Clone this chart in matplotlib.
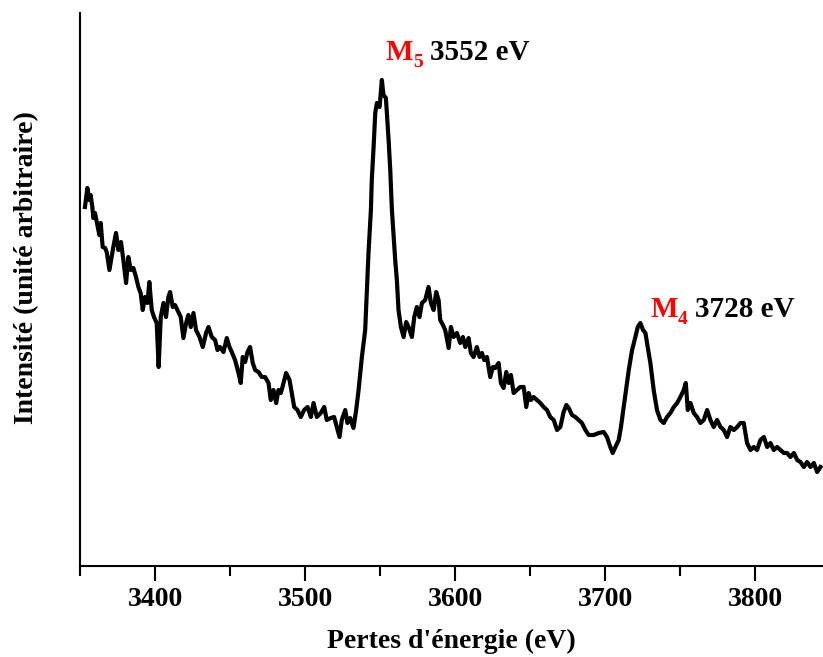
import matplotlib
matplotlib.use("Agg")
import matplotlib.pyplot as plt
from matplotlib.ticker import MultipleLocator

# Spectre EELS, seuils M5 et M4 (unite arbitraire)
energie = [3353.3, 3354.9, 3356.2, 3357.1, 3358.2, 3358.9, 3360, 3361.6, 3362.9, 3363.8,
           3365.1, 3366.7, 3367.8, 3369.6, 3371.1, 3372.2, 3374, 3375.6, 3377.3, 3378.9,
           3380.7, 3382.2, 3383.8, 3385.6, 3387.3, 3388.9, 3390.4, 3391.8, 3393.3, 3394.9,
           3396.2, 3397.8, 3399.3, 3401.1, 3402.4, 3403.8, 3405.6, 3407.3, 3408.9, 3410,
           3411.8, 3413.3, 3414.9, 3417.1, 3418.9, 3420.7, 3422.2, 3423.8, 3425.6, 3427.3,
           3429.6, 3431.8, 3434, 3435.6, 3437.8, 3440, 3441.6, 3443.3, 3445.6, 3447.8,
           3449.6, 3451.1, 3453.3, 3455.6, 3457.1, 3458.4, 3460, 3461.6, 3463.3, 3465.1,
           3466.7, 3468.9, 3471.1, 3473.3, 3475.6, 3477.1, 3478.9, 3480.7, 3482.2, 3483.8,
           3485.6, 3487.3, 3489.6, 3491.1, 3492.7, 3494.9, 3497.1, 3499.3, 3501.6, 3503.8,
           3505.6, 3507.8, 3510.4, 3512.7, 3514.4, 3517.1, 3519.3, 3521.1, 3522.9, 3524.4,
           3526.7, 3528.2, 3530, 3532.2, 3534, 3535.6, 3537.8, 3540, 3542.2, 3543.8,
           3544.4, 3545.6, 3546.7, 3547.8, 3549.6, 3551.1, 3552.2, 3553.8, 3555.6, 3556.7,
           3557.8, 3560, 3561.1, 3562.2, 3563.8, 3565.6, 3567.3, 3568.9, 3571.1, 3572.7,
           3574.4, 3576.2, 3577.8, 3580, 3582.2, 3583.8, 3585.6, 3587.3, 3588.9, 3590,
           3591.8, 3593.3, 3595.6, 3597.1, 3598.9, 3601.1, 3603.3, 3605.1, 3606.7, 3608.9,
           3610.4, 3612.2, 3614.4, 3616.2, 3617.8, 3619.3, 3621.1, 3623.3, 3625.1, 3626.7,
           3628.9, 3630.4, 3632.2, 3634, 3635.6, 3637.1, 3638.9, 3641.1, 3643.3, 3645.6,
           3647.3, 3648.9, 3650.4, 3652.2, 3654.4, 3656.7, 3658.9, 3661.1, 3663.3, 3665.6,
           3667.8, 3670, 3672.2, 3674, 3675.6, 3677.8, 3680, 3682.2, 3684.4, 3686.7,
           3688.9, 3692.2, 3695.6, 3698.9, 3701.1, 3703.3, 3704.9, 3706.7, 3708.9, 3710.4,
           3712.2, 3714, 3715.6, 3717.8, 3720, 3721.6, 3723.3, 3725.1, 3726.7, 3728.2,
           3730, 3732.2, 3734.4, 3736.7, 3738.9, 3741.1, 3743.3, 3745.6, 3747.8, 3750,
           3752.2, 3753.6, 3754.9, 3756.7, 3758.9, 3761.1, 3763.3, 3765.6, 3767.8, 3770,
           3772.2, 3774.4, 3776.7, 3778.9, 3781.1, 3783.3, 3785.6, 3787.8, 3790, 3792.2,
           3794.4, 3796.7, 3798.9, 3801.1, 3803.3, 3805.6, 3807.8, 3810, 3812.2, 3814.4,
           3816.7, 3818.9, 3821.1, 3823.3, 3825.6, 3827.8, 3830, 3832.2, 3834.4, 3836.7,
           3838.9, 3841.1, 3843.3]
intensite = [359, 378, 366, 371, 359, 348, 353, 341, 331, 343,
             319, 318, 314, 296, 309, 319, 333, 316, 324, 306,
             283, 309, 296, 298, 289, 279, 273, 256, 269, 263,
             284, 256, 249, 243, 199, 249, 263, 249, 269, 274,
             259, 261, 256, 249, 228, 243, 251, 239, 253, 236,
             229, 219, 233, 239, 229, 226, 216, 219, 214, 228,
             219, 214, 206, 193, 183, 209, 204, 214, 219, 203,
             196, 194, 189, 189, 183, 166, 176, 163, 176, 173,
             183, 193, 186, 173, 159, 156, 149, 156, 159, 149,
             163, 149, 153, 159, 146, 148, 149, 139, 129, 146,
             156, 143, 148, 138, 156, 176, 209, 236, 313, 356,
             386, 419, 453, 463, 459, 486, 471, 468, 426, 396,
             356, 306, 286, 256, 239, 229, 244, 239, 229, 249,
             259, 249, 263, 266, 279, 263, 256, 274, 266, 246,
             241, 236, 218, 239, 229, 233, 223, 229, 219, 228,
             213, 209, 219, 209, 213, 206, 209, 189, 199, 198,
             203, 183, 178, 194, 183, 191, 173, 176, 179, 179,
             159, 173, 166, 169, 166, 163, 159, 156, 149, 146,
             136, 139, 154, 161, 158, 151, 149, 146, 143, 136,
             131, 131, 133, 134, 129, 119, 113, 119, 126, 139,
             159, 179, 196, 216, 229, 239, 243, 236, 233, 219,
             203, 176, 156, 146, 143, 149, 153, 159, 163, 169,
             176, 183, 156, 163, 153, 149, 143, 146, 156, 146,
             139, 146, 139, 136, 129, 139, 136, 139, 143, 143,
             123, 116, 119, 116, 126, 129, 119, 123, 116, 119,
             116, 113, 113, 109, 113, 106, 104, 99, 104, 99,
             103, 94, 99]

pics = ["5", "4"]
pic_energie = ["3552 eV", "3728 eV"]

plt.rcParams["font.family"] = "Liberation Serif"
plt.rcParams["font.weight"] = "bold"

fig = plt.figure(figsize=(8.23, 6.57), dpi=100)
ax = fig.add_axes([0.0972, 0.1385, 0.9028, 0.8417])

ax.plot(energie, intensite, color="black", lw=3)

ax.set_xlim(3350, 3845)
ax.set_ylim(0, 553)
ax.xaxis.set_major_locator(MultipleLocator(100))
ax.xaxis.set_minor_locator(MultipleLocator(50))
ax.tick_params(axis="x", which="major", length=11, width=1.5, labelsize=20, pad=4)
ax.tick_params(axis="x", which="minor", length=7, width=1.5)
ax.set_yticks([])
for s in ["top", "right"]:
    ax.spines[s].set_visible(False)
ax.spines["left"].set_linewidth(1.5)
ax.spines["bottom"].set_linewidth(1.5)

ax.set_xlabel("Pertes d'énergie (eV)", fontsize=20, fontweight="bold", labelpad=12)
ax.set_ylabel("Intensité (unité arbitraire)", fontsize=20, fontweight="bold")
ax.yaxis.set_label_coords(-0.055, 0.54)

# annotations des pics: M rouge + indice, puis l'energie en noir
pos = [(3553.3, 506, 3583.3), (3730, 249, 3760)]
for (x, y, x2), p, e in zip(pos, pics, pic_energie):
    ax.text(x, y, "M", color="red", fontsize=21, fontweight="bold", va="baseline")
    ax.text(x + 18.5, y - 7, p, color="red", fontsize=14, fontweight="bold", va="baseline")
    ax.text(x2, y, e, color="black", fontsize=21, fontweight="bold", va="baseline")

fig.savefig("out.png", dpi=100)
